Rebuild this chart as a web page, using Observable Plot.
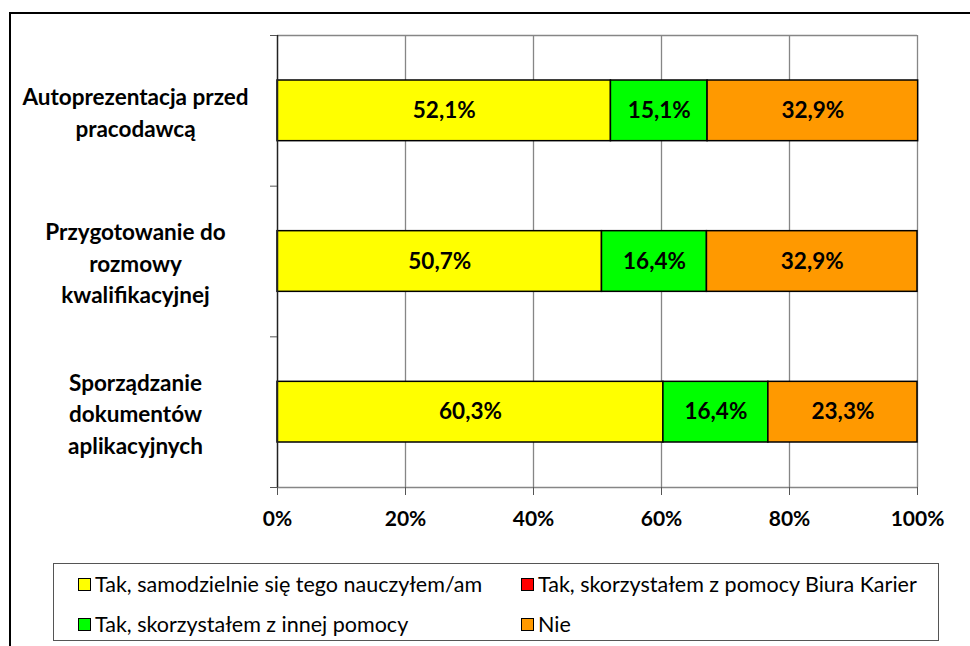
<!DOCTYPE html>
<html>
<head>
<meta charset="utf-8">
<script src="https://cdn.jsdelivr.net/npm/d3@7"></script>
<script src="https://cdn.jsdelivr.net/npm/@observablehq/plot@0.6"></script>
<style>
  html, body { margin: 0; padding: 0; background: #fff; }
  #wrap { position: relative; width: 970px; height: 646px; overflow: hidden; font-family: Lato, "Open Sans", sans-serif; }
  #frame { position: absolute; left: 9px; top: 12px; width: 980px; height: 660px; border-top: 2px solid #000; border-left: 2px solid #000; box-sizing: border-box; }
  #chart { position: absolute; left: 0; top: 0; }
  #legend { position: absolute; left: 53px; top: 563px; width: 886px; height: 78px; border: 1px solid #555; box-sizing: border-box; }
  .item { position: absolute; display: flex; align-items: center; font-size: 21.5px; color: #000; white-space: nowrap; }
  .sw { width: 11px; height: 11px; border: 1.5px solid #000; margin-right: 4px; }
</style>
</head>
<body>
<div id="wrap">
  <div id="frame"></div>
  <div id="chart"></div>
  <div id="legend"></div>
</div>
<script>
const categories = ["Autoprezentacja przed\npracodawcą", "Przygotowanie do\nrozmowy\nkwalifikacyjnej", "Sporządzanie\ndokumentów\naplikacyjnych"];
const series = ["Tak, samodzielnie się tego nauczyłem/am", "Tak, skorzystałem z pomocy Biura Karier", "Tak, skorzystałem z innej pomocy", "Nie"];
const selfTaught = [52.1, 50.7, 60.3];
const careerOffice = [0, 0, 0];
const otherHelp = [15.1, 16.4, 16.4];
const noHelp = [32.9, 32.9, 23.3];
const xTicks = [0, 20, 40, 60, 80, 100];
const colors = ["#FFFF00", "#FF0000", "#00FF00", "#FF9900"];

const seriesValues = [selfTaught, careerOffice, otherHelp, noHelp];
const rows = [];
categories.forEach((c, i) => {
  series.forEach((s, j) => {
    rows.push({category: c, idx: i, series: s, value: seriesValues[j][i]});
  });
});
const fmt = v => v.toFixed(1).replace(".", ",") + "%";

const chart = Plot.plot({
  width: 970,
  height: 563,
  marginTop: 35,
  marginBottom: 76,
  marginLeft: 277,
  marginRight: 53,
  style: {fontFamily: "Lato, 'Open Sans', sans-serif", fontSize: "20px", color: "#000", background: "transparent"},
  x: {domain: [0, 100], axis: null},
  y: {domain: [0, 3], reverse: true, axis: null},
  color: {domain: series, range: colors},
  marks: [
    Plot.ruleX(xTicks.slice(1), {stroke: "#868686", strokeOpacity: 1, strokeWidth: 1.3}),
    Plot.ruleY([0, 3], {stroke: "#868686", strokeOpacity: 1, strokeWidth: 1.3}),
    Plot.rectX(rows, Plot.stackX({
      x: "value", y1: "idx", y2: d => d.idx + 1, fill: "series",
      filter: d => d.value > 0,
      insetTop: 45, insetBottom: 45,
      stroke: "#000", strokeWidth: 1.5
    })),
    Plot.text(rows, Plot.stackX({
      x: "value", y: d => d.idx + 0.5, z: "series",
      filter: d => d.value > 0,
      text: d => fmt(d.value),
      fontWeight: "bold", fontSize: 22.5, fill: "#000"
    })),
    Plot.ruleX([0], {stroke: "#222", strokeWidth: 1.5}),
    Plot.axisX({ticks: xTicks, tickFormat: d => d + "%", tickSize: 8, tickPadding: 16, fontWeight: "bold", fontSize: 21, stroke: "#555", label: null}),
    Plot.axisY({ticks: [0, 1, 2, 3], tickFormat: () => "", tickSize: 7, stroke: "#555", label: null}),
    Plot.text(categories, {
      y: (d, i) => i + 0.5, text: d => d, frameAnchor: "left", dx: -142,
      textAnchor: "middle", fontWeight: "bold", fontSize: 22.5, lineHeight: 1.4, fill: "#000"
    })
  ]
});
document.getElementById("chart").appendChild(chart);

const legend = document.getElementById("legend");
const positions = [[24, 20], [467, 20], [24, 60], [467, 60]];
series.forEach((s, j) => {
  const it = document.createElement("div");
  it.className = "item";
  it.style.left = positions[j][0] + "px";
  it.style.top = (positions[j][1] - 14) + "px";
  it.style.height = "28px";
  const sw = document.createElement("div");
  sw.className = "sw";
  sw.style.background = colors[j];
  const tx = document.createElement("span");
  tx.textContent = s;
  it.appendChild(sw);
  it.appendChild(tx);
  legend.appendChild(it);
});
</script>
</body>
</html>
